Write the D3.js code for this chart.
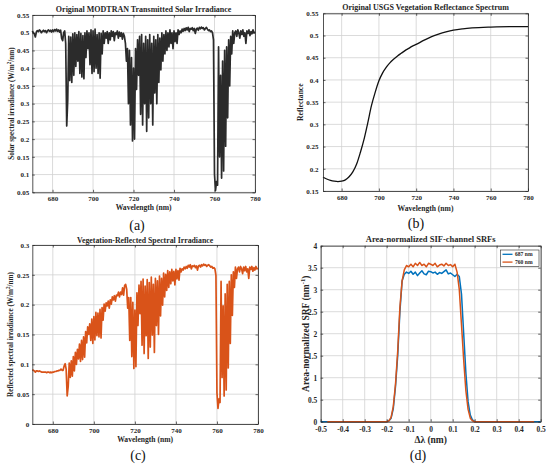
<!DOCTYPE html>
<html>
<head>
<meta charset="utf-8">
<script src="https://cdn.jsdelivr.net/npm/d3@7"></script>
<style>
  body { margin: 0; background: #fff; }
  svg text { font-family: "Liberation Serif", "Times New Roman", serif; font-weight: bold; fill: #262626; }
</style>
</head>
<body>
<svg id="fig" width="550" height="467"></svg>
<script>
// ---- data ----
// (a) and (c) are sampled every 0.5 nm from 670 to 780 nm
const wavelength = d3.range(670, 780.25, 0.5)

const solarIrradiance = [
  0.505, 0.500, 0.497, 0.488, 0.502, 0.506, 0.503, 0.508, 0.505, 0.500, 0.504, 0.507, 0.503, 0.506, 0.500, 0.505, 0.508, 0.504, 0.507, 0.502,
  0.508, 0.503, 0.509, 0.505, 0.510, 0.504, 0.508, 0.502, 0.507, 0.484, 0.478, 0.500, 0.505, 0.470, 0.237, 0.310, 0.490, 0.365, 0.488, 0.360,
  0.497, 0.380, 0.500, 0.405, 0.495, 0.420, 0.503, 0.385, 0.498, 0.375, 0.492, 0.370, 0.500, 0.430, 0.505, 0.455, 0.500, 0.410, 0.508, 0.385,
  0.505, 0.390, 0.510, 0.400, 0.495, 0.385, 0.500, 0.372, 0.498, 0.440, 0.505, 0.470, 0.500, 0.485, 0.503, 0.470, 0.500, 0.480, 0.505, 0.490,
  0.503, 0.478, 0.500, 0.495, 0.505, 0.485, 0.502, 0.490, 0.500, 0.482, 0.498, 0.490, 0.470, 0.420, 0.455, 0.300, 0.450, 0.240, 0.430, 0.195,
  0.400, 0.200, 0.455, 0.340, 0.480, 0.380, 0.490, 0.270, 0.495, 0.240, 0.470, 0.300, 0.490, 0.222, 0.480, 0.260, 0.495, 0.300, 0.470, 0.240,
  0.490, 0.330, 0.480, 0.300, 0.495, 0.360, 0.485, 0.395, 0.500, 0.420, 0.495, 0.440, 0.505, 0.450, 0.500, 0.460, 0.508, 0.470, 0.500, 0.455,
  0.505, 0.475, 0.500, 0.470, 0.508, 0.495, 0.505, 0.500, 0.510, 0.504, 0.512, 0.506, 0.514, 0.508, 0.515, 0.503, 0.512, 0.510, 0.514, 0.506,
  0.512, 0.498, 0.510, 0.513, 0.507, 0.515, 0.511, 0.516, 0.512, 0.514, 0.508, 0.512, 0.515, 0.510, 0.506, 0.508, 0.503, 0.505, 0.500, 0.480,
  0.100, 0.055, 0.080, 0.070, 0.460, 0.150, 0.380, 0.090, 0.420, 0.110, 0.450, 0.180, 0.460, 0.260, 0.480, 0.350, 0.490, 0.440, 0.505, 0.470,
  0.500, 0.505, 0.490, 0.508, 0.500, 0.485, 0.505, 0.495, 0.508, 0.490, 0.500, 0.470, 0.505, 0.498, 0.508, 0.492, 0.503, 0.497, 0.508, 0.500, 0.502
]

const reflectedIrradiance = [
  0.091, 0.090, 0.089, 0.087, 0.089, 0.089, 0.088, 0.089, 0.088, 0.087, 0.087, 0.087, 0.087, 0.087, 0.086, 0.087, 0.087, 0.086, 0.087, 0.086,
  0.087, 0.087, 0.088, 0.088, 0.089, 0.089, 0.090, 0.090, 0.092, 0.090, 0.090, 0.097, 0.101, 0.092, 0.047, 0.063, 0.102, 0.078, 0.106, 0.080,
  0.113, 0.089, 0.120, 0.100, 0.125, 0.109, 0.134, 0.105, 0.140, 0.108, 0.146, 0.112, 0.155, 0.136, 0.163, 0.150, 0.168, 0.140, 0.176, 0.135,
  0.180, 0.141, 0.187, 0.148, 0.186, 0.146, 0.192, 0.144, 0.195, 0.174, 0.201, 0.189, 0.203, 0.198, 0.206, 0.194, 0.208, 0.201, 0.213, 0.208,
  0.215, 0.206, 0.216, 0.215, 0.221, 0.213, 0.221, 0.217, 0.228, 0.216, 0.232, 0.234, 0.226, 0.194, 0.212, 0.140, 0.212, 0.113, 0.204, 0.093,
  0.191, 0.096, 0.220, 0.165, 0.233, 0.185, 0.239, 0.132, 0.243, 0.118, 0.231, 0.148, 0.242, 0.110, 0.237, 0.129, 0.246, 0.149, 0.234, 0.120,
  0.244, 0.165, 0.240, 0.150, 0.248, 0.181, 0.244, 0.199, 0.253, 0.213, 0.251, 0.224, 0.257, 0.229, 0.255, 0.235, 0.259, 0.240, 0.256, 0.233,
  0.259, 0.243, 0.257, 0.241, 0.261, 0.255, 0.260, 0.258, 0.263, 0.260, 0.264, 0.261, 0.266, 0.263, 0.267, 0.260, 0.265, 0.264, 0.266, 0.262,
  0.265, 0.258, 0.265, 0.266, 0.263, 0.267, 0.265, 0.268, 0.266, 0.267, 0.264, 0.266, 0.267, 0.265, 0.263, 0.264, 0.261, 0.262, 0.260, 0.249,
  0.052, 0.026, 0.042, 0.036, 0.239, 0.078, 0.198, 0.047, 0.218, 0.057, 0.234, 0.094, 0.239, 0.135, 0.250, 0.182, 0.255, 0.229, 0.263, 0.244,
  0.260, 0.263, 0.255, 0.264, 0.260, 0.252, 0.263, 0.257, 0.264, 0.255, 0.260, 0.244, 0.263, 0.259, 0.264, 0.256, 0.262, 0.258, 0.264, 0.260, 0.261
]

// (b) USGS vegetation reflectance
const reflWavelength = [670, 672, 674, 676, 678, 680, 682, 684, 686, 688, 690, 692, 694, 696, 698, 700, 702, 704, 706, 708,
  710, 712, 714, 716, 718, 720, 724, 728, 732, 736, 740, 745, 750, 760, 770, 780]
const reflectance = [0.181, 0.177, 0.174, 0.172, 0.171, 0.172, 0.175, 0.182, 0.193, 0.210, 0.236, 0.266, 0.303, 0.342, 0.372, 0.398, 0.416, 0.429, 0.439, 0.447,
  0.454, 0.460, 0.466, 0.471, 0.476, 0.480, 0.489, 0.497, 0.503, 0.508, 0.512, 0.515, 0.517, 0.519, 0.520, 0.520]

// (d) area-normalized SRFs
const srfDelta = [-0.20, -0.19, -0.18, -0.17, -0.16, -0.15, -0.14, -0.13, -0.12, -0.11, -0.10, -0.09, -0.08, -0.07, -0.06, -0.05, -0.04, -0.03, -0.02, -0.01,
  0, 0.01, 0.02, 0.03, 0.04, 0.05, 0.06, 0.07, 0.08, 0.09, 0.10, 0.11, 0.12, 0.13, 0.14, 0.15, 0.16, 0.17, 0.18, 0.19, 0.20]
const srf687 = [0, 0.02, 0.08, 0.30, 0.80, 1.50, 2.50, 3.20, 3.35, 3.40, 3.37, 3.42, 3.35, 3.40, 3.32, 3.38, 3.43, 3.36, 3.34, 3.42,
  3.41, 3.38, 3.40, 3.35, 3.39, 3.37, 3.41, 3.45, 3.36, 3.38, 3.34, 3.30, 3.35, 3.30, 2.90, 2.00, 1.10, 0.45, 0.15, 0.04, 0]
const srf760 = [0, 0.02, 0.10, 0.35, 0.85, 1.60, 2.60, 3.20, 3.45, 3.55, 3.52, 3.58, 3.52, 3.60, 3.55, 3.62, 3.55, 3.58, 3.52, 3.60,
  3.58, 3.55, 3.60, 3.52, 3.56, 3.58, 3.54, 3.60, 3.55, 3.57, 3.52, 3.58, 3.40, 3.00, 2.20, 1.40, 0.70, 0.28, 0.08, 0.02, 0]
const srf687Span = [-0.5, 0.5]
const srf760Span = [-0.47, 0.47]
const srfNames = ['687 nm', '760 nm']

// tick labels
const wlTicks = [680, 700, 720, 740, 760, 780]
const solarTicks = [0.05, 0.1, 0.15, 0.2, 0.25, 0.3, 0.35, 0.4, 0.45, 0.5, 0.55]
const reflTicks = [0.15, 0.2, 0.25, 0.3, 0.35, 0.4, 0.45, 0.5, 0.55]
const reflectedTicks = [0, 0.05, 0.1, 0.15, 0.2, 0.25, 0.3]
const deltaTicks = [-0.5, -0.4, -0.3, -0.2, -0.1, 0, 0.1, 0.2, 0.3, 0.4, 0.5]
const srfTicks = [0, 0.5, 1, 1.5, 2, 2.5, 3, 3.5, 4]

// ---- drawing ----
const svg = d3.select('#fig')
const axisColor = '#262626'
const gridColor = '#d2d2d2'
const blue = '#0072BD'
const orange = '#D95319'

function panel (cfg) {
  const x = d3.scaleLinear().domain(cfg.xDomain).range([cfg.left, cfg.right])
  const y = d3.scaleLinear().domain(cfg.yDomain).range([cfg.bottom, cfg.top])
  const g = svg.append('g')

  g.append('g')
    .selectAll('line')
    .data(cfg.xTicks)
    .join('line')
      .attr('x1', d => x(d)).attr('x2', d => x(d))
      .attr('y1', cfg.top).attr('y2', cfg.bottom)
      .attr('stroke', gridColor).attr('stroke-width', 0.8)

  g.append('g')
    .selectAll('line')
    .data(cfg.yTicks)
    .join('line')
      .attr('y1', d => y(d)).attr('y2', d => y(d))
      .attr('x1', cfg.left).attr('x2', cfg.right)
      .attr('stroke', gridColor).attr('stroke-width', 0.8)

  const line = d3.line().x(d => x(d[0])).y(d => y(d[1]))
  cfg.series.forEach(s => {
    g.append('path')
      .datum(s.rows)
      .attr('fill', 'none')
      .attr('stroke', s.color)
      .attr('stroke-width', s.width)
      .attr('stroke-linejoin', 'round')
      .attr('d', line.curve(s.curve || d3.curveLinear))
  })

  const tickLen = 2.5
  const axes = [
    { axis: d3.axisBottom(x).tickValues(cfg.xTicks).tickFormat(d => String(d)).tickPadding(cfg.xPad), at: `translate(0,${cfg.bottom})` },
    { axis: d3.axisLeft(y).tickValues(cfg.yTicks).tickFormat(d => String(d)).tickPadding(cfg.yPad), at: `translate(${cfg.left},0)` },
    { axis: d3.axisTop(x).tickValues(cfg.xTicks).tickFormat(''), at: `translate(0,${cfg.top})` },
    { axis: d3.axisRight(y).tickValues(cfg.yTicks).tickFormat(''), at: `translate(${cfg.right},0)` }
  ]
  axes.forEach(a => {
    const ag = g.append('g')
      .attr('transform', a.at)
      .call(a.axis.tickSize(-tickLen).tickSizeOuter(0))
    ag.attr('font-family', null).attr('font-size', cfg.tickSize)
    ag.select('.domain').attr('stroke', axisColor).attr('stroke-width', 0.8)
    ag.selectAll('.tick line').attr('stroke', axisColor).attr('stroke-width', 0.7)
    ag.selectAll('.tick text').attr('fill', axisColor)
  })

  const cx = (cfg.left + cfg.right) / 2
  const cy = (cfg.top + cfg.bottom) / 2

  g.append('text')
    .attr('x', cx).attr('y', cfg.titleY)
    .attr('text-anchor', 'middle')
    .attr('font-size', cfg.titleSize)
    .text(cfg.title)

  g.append('text')
    .attr('x', cx).attr('y', cfg.xLabelY)
    .attr('text-anchor', 'middle')
    .attr('font-size', cfg.labelSize)
    .text(cfg.xLabel)

  const ySize = cfg.yLabelSize || cfg.labelSize
  const yl = g.append('text')
    .attr('transform', `translate(${cfg.yLabelX},${cy}) rotate(-90)`)
    .attr('text-anchor', 'middle')
    .attr('font-size', ySize)
  cfg.yLabel.forEach(part => {
    const t = yl.append('tspan').text(part.text)
    if (part.sup) t.attr('dy', -ySize * 0.4).attr('font-size', ySize * 0.7)
    if (part.after) t.attr('dy', ySize * 0.4)
  })

  g.append('text')
    .attr('x', cfg.tagX).attr('y', cfg.tagY)
    .attr('text-anchor', 'middle')
    .attr('font-size', 14)
    .style('font-weight', 'normal')
    .style('fill', '#111')
    .text(cfg.tag)

  return { g, x, y }
}

const zip = (xs, ys) => xs.map((v, i) => [v, ys[i]])

panel({
  left: 32.3, right: 255, top: 15, bottom: 192.3,
  xDomain: [670, 780], yDomain: [0.05, 0.55],
  xTicks: wlTicks, yTicks: solarTicks, xPad: 3.3, yPad: 3, tickSize: 7,
  title: 'Original MODTRAN Transmitted Solar Irradiance', titleY: 11.8, titleSize: 8,
  xLabel: 'Wavelength (nm)', xLabelY: 210.3, labelSize: 7.6,
  yLabel: [{ text: 'Solar spectral irradiance (W/m' }, { text: '2', sup: true }, { text: '/nm)', after: true }],
  yLabelX: 14.3, yLabelSize: 7.2,
  tag: '(a)', tagX: 137, tagY: 229.5,
  series: [{ rows: zip(wavelength, solarIrradiance), color: '#2b2b2b', width: 1.7 }]
})

panel({
  left: 323, right: 528, top: 13.3, bottom: 191,
  xDomain: [670, 780], yDomain: [0.15, 0.55],
  xTicks: wlTicks, yTicks: reflTicks, xPad: 4, yPad: 4.5, tickSize: 7,
  title: 'Original USGS Vegetation Reflectance Spectrum', titleY: 10, titleSize: 8,
  xLabel: 'Wavelength (nm)', xLabelY: 211, labelSize: 7.6,
  yLabel: [{ text: 'Reflectance' }],
  yLabelX: 302.6,
  tag: '(b)', tagX: 416, tagY: 228,
  series: [{ rows: zip(reflWavelength, reflectance), color: '#111', width: 1.3, curve: d3.curveMonotoneX }]
})

panel({
  left: 32.3, right: 258, top: 245, bottom: 424,
  xDomain: [670, 780], yDomain: [0, 0.3],
  xTicks: wlTicks, yTicks: reflectedTicks, xPad: 4, yPad: 3, tickSize: 7,
  title: 'Vegetation-Reflected Spectral Irradiance', titleY: 242.7, titleSize: 7.8,
  xLabel: 'Wavelength (nm)', xLabelY: 441.8, labelSize: 7.6,
  yLabel: [{ text: 'Reflected spectral irradiance (W/m' }, { text: '2', sup: true }, { text: '/nm)', after: true }],
  yLabelX: 12.5, yLabelSize: 7.2,
  tag: '(c)', tagX: 138, tagY: 459.5,
  series: [{ rows: zip(wavelength, reflectedIrradiance), color: orange, width: 1.7 }]
})

const d = panel({
  left: 320.7, right: 540.7, top: 245.7, bottom: 421.7,
  xDomain: [-0.5, 0.5], yDomain: [0, 4],
  xTicks: deltaTicks, yTicks: srfTicks, xPad: 5.2, yPad: 3.5, tickSize: 7.4,
  title: 'Area-normalized SIF-channel SRFs', titleY: 242, titleSize: 8.5,
  xLabel: '\u0394\u03bb (nm)', xLabelY: 443, labelSize: 9.5,
  yLabel: [{ text: 'Area-normalized SRF (nm' }, { text: '-1', sup: true }, { text: ')', after: true }],
  yLabelX: 309,
  tag: '(d)', tagX: 418, tagY: 459.5,
  series: [
    { rows: [[srf687Span[0], 0], ...zip(srfDelta, srf687), [srf687Span[1], 0]], color: blue, width: 1.5 },
    { rows: [[srf760Span[0], 0], ...zip(srfDelta, srf760), [srf760Span[1], 0]], color: orange, width: 1.5 }
  ]
})

// legend for (d)
const legend = d.g.append('g').attr('transform', 'translate(500.5,250)')
legend.append('rect')
  .attr('width', 38.5).attr('height', 16.5)
  .attr('fill', '#fff').attr('stroke', axisColor).attr('stroke-width', 0.6)
legend.selectAll('g.item')
  .data(srfNames)
  .join('g')
    .attr('class', 'item')
    .attr('transform', (n, i) => `translate(0,${4.3 + i * 7.8})`)
    .each(function (n, i) {
      const item = d3.select(this)
      item.append('line')
        .attr('x1', 2).attr('x2', 12)
        .attr('stroke', i === 0 ? blue : orange).attr('stroke-width', 1.3)
      item.append('text')
        .attr('x', 14.5).attr('y', 2)
        .attr('font-size', 5.6)
        .text(n)
    })
</script>
</body>
</html>
